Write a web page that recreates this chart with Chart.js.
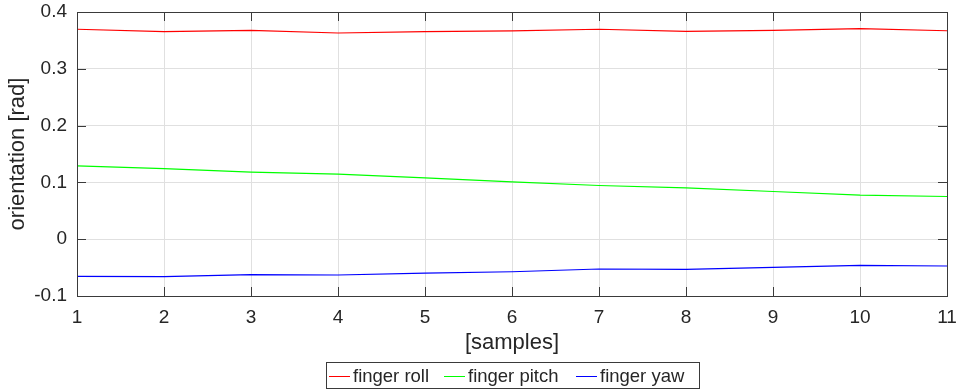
<!DOCTYPE html>
<html>
<head>
<meta charset="utf-8">
<script src="https://cdn.jsdelivr.net/npm/chart.js@4.4.1/dist/chart.umd.min.js"></script>
<style>
  html, body { margin: 0; padding: 0; background: #fff; }
  #wrap { width: 957px; height: 390px; position: relative; }
</style>
</head>
<body>
<div id="wrap"><canvas id="orientChart" width="957" height="390"></canvas></div>
<script>
// samples 1..11
var samples = [1, 2, 3, 4, 5, 6, 7, 8, 9, 10, 11];

// finger orientation per sample [rad]
var fingerRoll  = [0.3696, 0.3654, 0.3678, 0.3630, 0.3654, 0.3666, 0.3696, 0.3660, 0.3678, 0.3707, 0.3670];
var fingerPitch = [0.1292, 0.1244, 0.1180, 0.1145, 0.1080, 0.1010, 0.0945, 0.0905, 0.0840, 0.0776, 0.0752];
var fingerYaw   = [-0.0655, -0.0660, -0.0625, -0.0630, -0.0596, -0.0573, -0.0525, -0.0532, -0.0497, -0.0460, -0.0472];

var seriesNames  = ['finger roll', 'finger pitch', 'finger yaw'];
var seriesColors = ['#ff0000', '#00ff00', '#0000ff'];
var seriesValues = [fingerRoll, fingerPitch, fingerYaw];

var yTicks = [-0.1, 0, 0.1, 0.2, 0.3, 0.4];

var textColor = '#262626';
var frameColor = '#3a3a3a';
var gridColor = '#e0e0e0';
var fontFamily = '"Liberation Sans", Arial, Helvetica, sans-serif';

function toPoints(values) {
    var pts = [];
    for (var i = 0; i < samples.length; i++) {
        pts.push({x: samples[i], y: values[i]});
    }
    return pts;
}

var datasets = [];
for (var s = 0; s < seriesNames.length; s++) {
    datasets.push({
        label: seriesNames[s],
        data: toPoints(seriesValues[s]),
        borderColor: seriesColors[s],
        backgroundColor: seriesColors[s],
        borderWidth: 1.2,
        pointRadius: 0,
        tension: 0,
        fill: false
    });
}

// box around the axes with inward tick marks on every side
var axesBox = {
    id: 'axesBox',
    afterDraw: function (chart) {
        var ctx = chart.ctx;
        var area = chart.chartArea;
        var xs = chart.scales.x, ys = chart.scales.y;
        var len = 9;
        ctx.save();
        ctx.strokeStyle = frameColor;
        ctx.lineWidth = 1;
        ctx.beginPath();
        xs.ticks.forEach(function (t) {
            var px = Math.round(xs.getPixelForValue(t.value)) + 0.5;
            ctx.moveTo(px, area.bottom);
            ctx.lineTo(px, area.bottom - len);
            ctx.moveTo(px, area.top);
            ctx.lineTo(px, area.top + len);
        });
        ys.ticks.forEach(function (t) {
            var py = Math.round(ys.getPixelForValue(t.value)) + 0.5;
            ctx.moveTo(area.left, py);
            ctx.lineTo(area.left + len, py);
            ctx.moveTo(area.right, py);
            ctx.lineTo(area.right - len, py);
        });
        ctx.stroke();
        ctx.strokeRect(Math.round(area.left) + 0.5, Math.round(area.top) + 0.5,
            Math.round(area.right - area.left), Math.round(area.bottom - area.top));
        ctx.restore();
    }
};

// boxed legend below the axis title
var boxedLegend = {
    id: 'boxedLegend',
    afterDraw: function (chart) {
        var ctx = chart.ctx;
        var box = {left: 326.5, top: 362.5, width: 373, height: 26};
        var midY = box.top + box.height / 2;
        var entryX = [329, 444, 576];
        var lineLen = 21;
        ctx.save();
        ctx.fillStyle = '#fff';
        ctx.fillRect(box.left, box.top, box.width, box.height);
        ctx.strokeStyle = frameColor;
        ctx.lineWidth = 1;
        ctx.strokeRect(box.left, box.top, box.width, box.height);
        ctx.font = '18.5px ' + fontFamily;
        ctx.textBaseline = 'middle';
        chart.data.datasets.forEach(function (ds, i) {
            ctx.strokeStyle = ds.borderColor;
            ctx.beginPath();
            ctx.moveTo(entryX[i], Math.round(midY) + 0.5);
            ctx.lineTo(entryX[i] + lineLen, Math.round(midY) + 0.5);
            ctx.stroke();
            ctx.fillStyle = textColor;
            ctx.fillText(ds.label, entryX[i] + lineLen + 3, midY + 1);
        });
        ctx.restore();
    }
};

new Chart(document.getElementById('orientChart'), {
    type: 'line',
    data: {datasets: datasets},
    options: {
        responsive: false,
        animation: false,
        layout: {padding: {top: 12, right: 10, bottom: 0, left: 0}},
        plugins: {
            legend: {display: false},
            tooltip: {enabled: false}
        },
        scales: {
            x: {
                type: 'linear',
                min: 1,
                max: 11,
                ticks: {
                    stepSize: 1,
                    color: textColor,
                    padding: 10,
                    maxRotation: 0,
                    font: {family: fontFamily, size: 19}
                },
                grid: {color: gridColor, drawTicks: false},
                border: {display: false},
                title: {
                    display: true,
                    text: '[samples]',
                    color: textColor,
                    font: {family: fontFamily, size: 22},
                    padding: {top: 0, bottom: 34}
                },
                afterFit: function (scale) {
                    scale.height = 94;
                    scale.paddingLeft = 0;
                    scale.paddingRight = 0;
                }
            },
            y: {
                min: -0.1,
                max: 0.4,
                afterBuildTicks: function (scale) {
                    scale.ticks = yTicks.map(function (v) { return {value: v}; });
                },
                ticks: {
                    color: textColor,
                    padding: 10,
                    font: {family: fontFamily, size: 19},
                    callback: function (v) { return String(Math.round(v * 10) / 10); }
                },
                grid: {color: gridColor, drawTicks: false},
                border: {display: false},
                title: {
                    display: true,
                    text: 'orientation [rad]',
                    color: textColor,
                    font: {family: fontFamily, size: 22},
                    padding: {top: 5, bottom: 0}
                },
                afterFit: function (scale) {
                    scale.width = 77;
                    scale.paddingTop = 0;
                    scale.paddingBottom = 0;
                }
            }
        }
    },
    plugins: [axesBox, boxedLegend]
});
</script>
</body>
</html>
